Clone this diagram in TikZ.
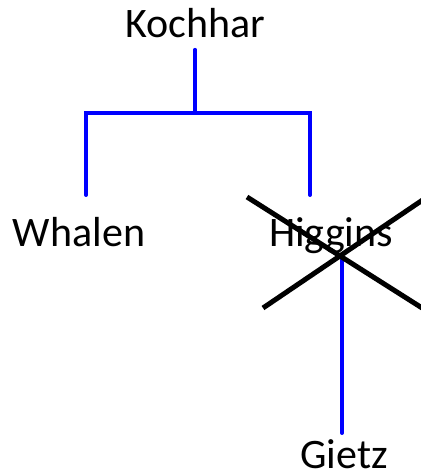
\documentclass[tikz,border=0pt]{standalone}
\usepackage{fontspec}
\setmainfont{Carlito}
\usetikzlibrary{calc}

\begin{document}
\begin{tikzpicture}[x=1pt,y=1pt,
  person/.style={anchor=base,inner sep=0pt,font=\fontsize{42}{50}\selectfont},
  tree/.style={blue,line width=4pt,line cap=round},
  strike/.style={black,line width=5pt}]
% ==========================================
\useasboundingbox (0,0) rectangle (420,476);
%
\node (kochhar) at (195,438) [person] {Kochhar};
\node (whalen) at (79,229) [person] {Whalen};
\node (higgins) at (331,229) [person] {Higgins};
\node (gietz) at (344,7) [person] {Gietz};
%
\draw[tree] ([yshift=-12pt]kochhar.base) -- ++(0,-63.5) -| ([xshift=7pt,yshift=52pt]whalen.base);
\draw[tree] ([yshift=-12pt]kochhar.base) -- ++(0,-63.5) -| ([xshift=-21pt,yshift=52pt]higgins.base);
%
\draw[tree] ([xshift=11pt,yshift=-9pt]higgins.base) -- ([xshift=-2pt,yshift=36pt]gietz.base);
%
\draw[strike] (247,279) -- (430,163);
\draw[strike] (263,168) -- (430,281);
% =============================================
\end{tikzpicture}
\end{document}
